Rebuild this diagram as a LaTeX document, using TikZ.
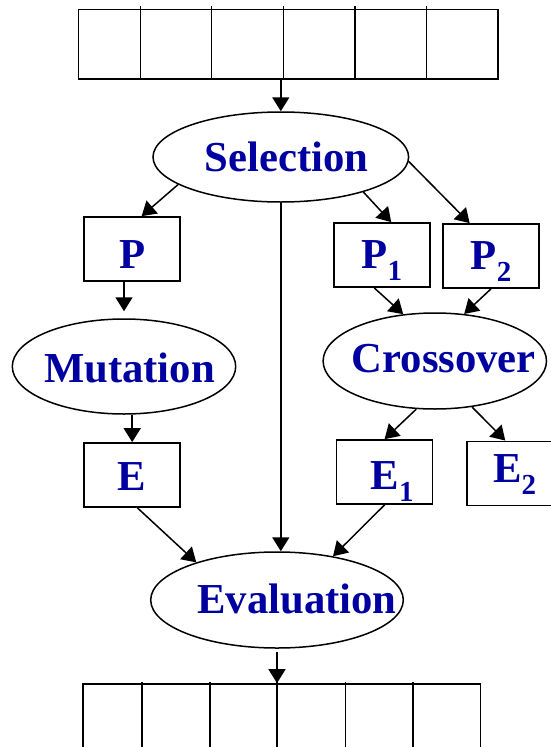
\documentclass[tikz,border=0pt]{standalone}
\usepackage{fontspec}
\setmainfont{Liberation Serif}
\usetikzlibrary{arrows.meta,shapes.geometric,calc}
\definecolor{txtblue}{RGB}{0,0,160}
\newcommand{\lowsub}[1]{\raisebox{-12pt}{\fontsize{29}{29}\selectfont #1}}
\tikzset{
  oval/.style={draw, ellipse, line width=1.5pt, inner sep=0pt},
  lbl/.style={text=txtblue, font=\fontsize{42.7}{43}\selectfont\bfseries, anchor=base, inner sep=0pt},
  box/.style={draw, line width=1.7pt, minimum width=96pt, minimum height=64pt, inner sep=0pt,
    text=txtblue, font=\fontsize{42.7}{43}\selectfont\bfseries, text height=#1, text depth=0pt},
  box/.default=32pt,
  slotrow/.style={draw, line width=1.7pt, inner sep=0pt}
}
\begin{document}
\begin{tikzpicture}[x=1pt, y=-1pt, >={Triangle[length=14pt,width=17pt]}]
\useasboundingbox (0,0) rectangle (550,747);
\node[slotrow, minimum width=419.4pt, minimum height=69.5pt] (top) at (288.3,44.3) {};
\foreach \x in {140.3,211.5,283.4,355,426.5}
  \draw[line width=1.6pt] (\x,6) -- (\x,79);
\node[oval, minimum width=255.6pt, minimum height=90pt] (sel) at (280.8,157) {};
\node[lbl] at ([xshift=6pt,yshift=-14.7pt]sel.center) {Selection};
\node[box=38.6pt] (P) at (132.2,249) {P};
\node[box=26.6pt] (P1) at (381.8,255) {P\lowsub{1}};
\node[box=26.6pt] (P2) at (491,256) {P\lowsub{2}};
\node[oval, minimum width=223.4pt, minimum height=95pt] (mut) at (124,366.5) {};
\node[lbl] at ([xshift=5.4pt,yshift=-16.2pt]mut.center) {Mutation};
\node[oval, minimum width=223.4pt, minimum height=96pt] (cross) at (434.8,361) {};
\node[lbl] at ([xshift=9pt,yshift=-11pt]cross.center) {Crossover};
\node[box=31.2pt] (E) at (132.2,475) {E};
\node[box=34pt] (E1) at (384.6,472) {\hspace*{15pt}E\lowsub{1}};
\node[box=18.6pt] (E2) at (514.7,473.4) {E\lowsub{2}};
\node[oval, minimum width=252.6pt, minimum height=96pt] (eval) at (277,600) {};
\node[lbl] at ([xshift=20pt,yshift=-13pt]eval.center) {Evaluation};
\node[slotrow, minimum width=397.5pt, minimum height=116pt] (bot) at (281.75,742) {};
\foreach \x in {142,209.8,277.1,345.5,413.2}
  \draw[line width=1.6pt] (\x,682) -- (\x,800);

\path [->, line width=1.5pt] (sel.north |- top.south) edge (sel.north)
           (sel.195) edge (P.74)
           (sel.-23) edge (P1.74)
           (sel.-2) edge (P2.123)
           (sel.south) edge (sel.south |- eval.north)
           (mut.north |- P.south) edge[shorten >=7pt] (mut.north)
           (P1.-103) edge (cross.124)
           (P2.south) edge (cross.58)
           (E.north |- mut.south) edge (E.north)
           (cross.-111) edge (E1.north)
           (cross.-51) edge (E2.106)
           (E.-81) edge (eval.155)
           (E1.south) edge (eval.38)
           (eval.south) edge[shorten <=3pt] (eval.south |- bot.north)
                      ;
\end{tikzpicture}
\end{document}
